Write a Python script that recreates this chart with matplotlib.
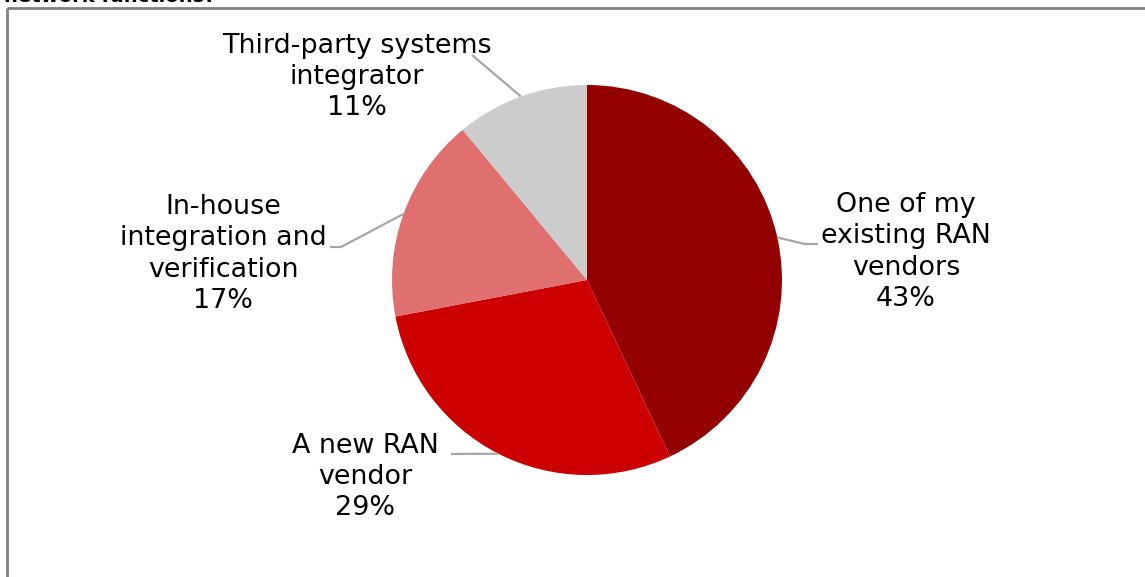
import numpy as np
import matplotlib
matplotlib.use("Agg")
import matplotlib.pyplot as plt

# Survey answer shares
labels = ["One of my\nexisting RAN\nvendors", "A new RAN\nvendor",
          "In-house\nintegration and\nverification", "Third-party systems\nintegrator"]
shares = [43, 29, 17, 11]
colors = ["#920000", "#CC0000", "#E07070", "#CCCCCC"]

W, H = 1145, 577
fig = plt.figure(figsize=(W / 100, H / 100), dpi=100)
ax = fig.add_axes([0, 0, 1, 1])

cx, cy, r = 587, 297, 195
ax.pie(shares, colors=colors, startangle=90, counterclock=False,
       center=(cx, cy), radius=r, frame=True,
       wedgeprops=dict(linewidth=0))
ax.set_xlim(0, W)
ax.set_ylim(0, H)
ax.set_aspect("equal")
ax.axis("off")

# label text centres and leader-line elbows (figure pixels, y upward)
text_pos = [(906, 325), (365, 100), (223, 323), (357, 500)]
elbows = [[(805, 333), (818, 333)],
          [(451, 123)],
          [(341, 330), (330, 330)],
          [(472, 522)]]

total = sum(shares)
start = 90.0
for lab, val, tp, elb in zip(labels, shares, text_pos, elbows):
    sweep = 360.0 * val / total
    mid = np.deg2rad(start - sweep / 2)
    start -= sweep
    ex, ey = cx + r * np.cos(mid), cy + r * np.sin(mid)
    xs = [ex] + [p[0] for p in elb]
    ys = [ey] + [p[1] for p in elb]
    ax.plot(xs, ys, color="#A6A6A6", lw=1.6, solid_capstyle="butt")
    ax.text(tp[0], tp[1], f"{lab}\n{val}%", ha="center", va="center",
            fontsize=19.4, color="black", family="DejaVu Sans", linespacing=1.27)

# chart frame (left and top edges visible)
ax.plot([7, 7], [-5, H - 8], color="#808080", lw=2, solid_capstyle="butt")
ax.plot([7, W + 5], [H - 8, H - 8], color="#808080", lw=2, solid_capstyle="butt")

# question title, partly above the chart area
ax.text(4, H - 2.5, "network functions?", ha="left", va="baseline",
        fontsize=14, fontweight="bold", color="black", family="DejaVu Sans",
        clip_on=False)

fig.savefig("out.png", dpi=100, facecolor="white")
